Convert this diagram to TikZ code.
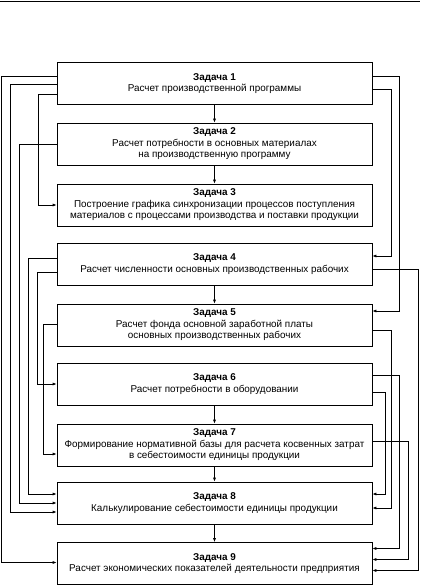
\documentclass[tikz,border=0pt]{standalone}
\usepackage{fontspec}
\setmainfont{Liberation Sans}
\usetikzlibrary{arrows.meta}

\begin{document}
\begin{tikzpicture}[x=1pt, y=-1pt, line width=0.7pt, >={Latex[length=4pt,width=3pt]},
    task/.style={shape=rectangle, draw, minimum width=315pt, minimum height=42pt,
        align=center, font=\fontsize{9.9}{11.5}\selectfont, inner sep=0pt}]
    \useasboundingbox (0,0) rectangle (420,585);
    \draw[line width=0.8pt] (0,1) -- (420,1);

    % tasks
    \node[task] (b1) at (214.5, 83.5){\textbf{Задача 1}\\Расчет производственной программы};
    \node[task] (b2) at (214.5, 144){\textbf{Задача 2}\\Расчет потребности в основных материалах\\на производственную программу};
    \node[task] (b3) at (214.5, 205){\textbf{Задача 3}\\Построение графика синхронизации процессов поступления\\материалов с процессами производства и поставки продукции};
    \node[task] (b4) at (214.5, 264){\textbf{Задача 4}\\Расчет численности основных производственных рабочих};
    \node[task] (b5) at (214.5, 325){\textbf{Задача 5}\\Расчет фонда основной заработной платы\\основных производственных рабочих};
    \node[task] (b6) at (214.5, 384){\textbf{Задача 6}\\Расчет потребности в оборудовании};
    \node[task] (b7) at (214.5, 445){\textbf{Задача 7}\\Формирование нормативной базы для расчета косвенных затрат\\в себестоимости единицы продукции};
    \node[task] (b8) at (214.5, 503){\textbf{Задача 8}\\Калькулирование себестоимости единицы продукции};
    \node[task] (b9) at (214.5, 563.5){\textbf{Задача 9}\\Расчет экономических показателей деятельности предприятия};

    % straight down
    \draw[->] (b1) to (b2);
    \draw[->] (b2) to (b3);
    \draw[->] (b4) to (b5);
    \draw[->] (b6) to (b7);
    \draw[->] (b7) to (b8);
    \draw[->] (b8) to (b9);

    % left side
    \draw[->] ([yshift=7pt]b1.west) -- ++(-55,0) |- ([yshift=1pt]b9.west);
    \draw[->] ([yshift=-1pt]b1.west) -- ++(-46,0) |- ([yshift=-9pt]b8.west);
    \draw[->] ([yshift=-11pt]b1.west) -- ++(-18,0) |- (b3.west);
    \draw[->] (b2.west) -- ++(-37,0) |- (b8.west);
    \draw[->] ([yshift=6pt]b4.west) -- ++(-28,0) |- ([yshift=9pt]b8.west);
    \draw[->] ([yshift=-8pt]b4.west) -- ++(-19,0) |- (b6.west);
    \draw[->] ([yshift=1pt]b5.west) -- ++(-13,0) |- ([yshift=-9pt]b7.west);

    % right side
    \draw[->] ([yshift=7pt]b1.east) -- ++(27,0) |- ([yshift=14pt]b5.east);
    \draw[->] ([yshift=-6pt]b1.east) -- ++(19,0) |- ([yshift=8pt]b4.east);
    \draw[->] ([yshift=-5pt]b4.east) -- ++(46,0) |- ([yshift=-7pt]b9.east);
    \draw[->] ([yshift=-5pt]b5.east) -- ++(19,0) |- ([yshift=-5pt]b8.east);
    \draw[->] ([yshift=9pt]b6.east) -- ++(27,0) |- ([yshift=15pt]b9.east);
    \draw[->] ([yshift=-8pt]b6.east) -- ++(13,0) |- ([yshift=9pt]b8.east);
    \draw[->] ([yshift=4pt]b7.east) -- ++(36,0) |- ([yshift=4pt]b9.east);
\end{tikzpicture}
\end{document}
